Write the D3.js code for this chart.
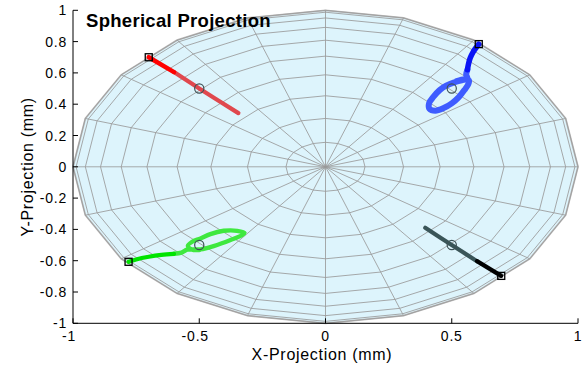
<!DOCTYPE html>
<html><head><meta charset="utf-8">
<script src="https://cdn.jsdelivr.net/npm/d3@7"></script>
<style>
html,body{margin:0;padding:0;background:#fff;}
svg{display:block;font-family:"Liberation Sans",Arial,Helvetica,sans-serif;}
</style></head>
<body>
<svg id="chart" width="587" height="371"></svg>
<script>
// ---- data ----
const title = "Spherical Projection";
const xLabel = "X-Projection (mm)";
const yLabel = "Y-Projection (mm)";
const xTicks = [-1, -0.5, 0, 0.5, 1];
const yTicks = [-1, -0.8, -0.6, -0.4, -0.2, 0, 0.2, 0.4, 0.6, 0.8, 1];
// sphere mesh (MATLAB sphere(20) viewed from above)
const ringLatitudesDeg = [0, 9, 18, 27, 36, 45, 54, 63, 72, 81];
const meridianAnglesDeg = [0,18,36,54,72,90,108,126,144,162,180,198,216,234,252,270,288,306,324,342];
// targets (circles) and start points (squares)
const targets = [[-0.5, 0.5], [0.5, 0.5], [-0.5, -0.5], [0.5, -0.5]];
const starts = [[-0.70, 0.70], [0.607, 0.784], [-0.78, -0.607], [0.696, -0.697]];
// trajectories: early (saturated) part and later part
const redEarly = [[-0.70, 0.70], [-0.60, 0.605]];
const redLate = [[-0.60, 0.605], [-0.50, 0.50], [-0.345, 0.343]];
const blueEarly = [[0.607, 0.784], [0.598, 0.765], [0.585, 0.735], [0.573, 0.695], [0.566, 0.655], [0.562, 0.62]];
const blueLate = [[0.562, 0.62], [0.557, 0.59], [0.562, 0.565], [0.545, 0.555], [0.51, 0.54], [0.478, 0.518],
  [0.452, 0.49], [0.428, 0.448], [0.41, 0.405], [0.412, 0.37], [0.435, 0.358], [0.468, 0.375],
  [0.50, 0.405], [0.528, 0.445], [0.55, 0.49], [0.566, 0.53], [0.568, 0.552], [0.55, 0.56], [0.52, 0.548]];
const greenEarly = [[-0.78, -0.607], [-0.75, -0.592], [-0.70, -0.575], [-0.65, -0.563], [-0.60, -0.556]];
const greenLate = [[-0.60, -0.556], [-0.57, -0.548], [-0.548, -0.53], [-0.52, -0.528], [-0.495, -0.528],
  [-0.443, -0.507], [-0.376, -0.468], [-0.33, -0.436], [-0.321, -0.422], [-0.35, -0.409], [-0.403, -0.409],
  [-0.456, -0.43], [-0.495, -0.458], [-0.528, -0.479], [-0.545, -0.505], [-0.53, -0.528], [-0.50, -0.532]];
const grayLate = [[0.395, -0.39], [0.50, -0.50], [0.60, -0.603]];
const grayEarly = [[0.60, -0.603], [0.696, -0.697]];

const traces = [
  {pts: redLate, color: "#e0484e", w: 4.2},
  {pts: redEarly, color: "#ff0000", w: 4.6},
  {pts: blueLate, color: "#3f5cff", w: 6},
  {pts: blueEarly, color: "#0a14f5", w: 5.5},
  {pts: greenLate, color: "#3fe83f", w: 4.4},
  {pts: greenEarly, color: "#00e400", w: 4.2},
  {pts: grayLate, color: "#3a5558", w: 4.2},
  {pts: grayEarly, color: "#000000", w: 4.2}
];

// ---- chart ----
const svg = d3.select("#chart");
const x = d3.scaleLinear().domain([-1, 1]).range([73, 578]);
const y = d3.scaleLinear().domain([-1, 1]).range([323.3, 10.3]);
const rad = d => d * Math.PI / 180;
const fmt = v => d3.format("~g")(v).replace("\u2212", "-");

// sphere fill
const rimPts = meridianAnglesDeg.map(a => [x(Math.cos(rad(a))), y(Math.sin(rad(a)))]);
svg.append("polygon").attr("points", rimPts.map(p => p.join(",")).join(" "))
  .attr("fill", "#ddf4fc").attr("stroke", "#bdbdbd").attr("stroke-width", 1.8);

const mesh = svg.append("g").attr("fill", "none").attr("stroke", "#999").attr("stroke-width", 0.85);
ringLatitudesDeg.forEach(lat => {
  const r = Math.cos(rad(lat));
  const pts = meridianAnglesDeg.map(a => [x(r * Math.cos(rad(a))), y(r * Math.sin(rad(a)))]);
  mesh.append("polygon").attr("points", pts.map(p => p.join(",")).join(" "));
});
meridianAnglesDeg.forEach(a => {
  mesh.append("line").attr("x1", x(0)).attr("y1", y(0))
    .attr("x2", x(Math.cos(rad(a)))).attr("y2", y(Math.sin(rad(a))));
});

// traces
const line = d3.line().x(d => x(d[0])).y(d => y(d[1])).curve(d3.curveCatmullRom.alpha(0.5));
traces.forEach(t => {
  svg.append("path").attr("d", line(t.pts)).attr("fill", "none")
    .attr("stroke", t.color).attr("stroke-width", t.w)
    .attr("stroke-linecap", "round").attr("stroke-linejoin", "round");
});

// target circles
svg.selectAll("circle.target").data(targets).join("circle").attr("class", "target")
  .attr("cx", d => x(d[0])).attr("cy", d => y(d[1])).attr("r", 4.6)
  .attr("fill", "none").attr("stroke", "#3e5256").attr("stroke-width", 1.2);

// start squares
svg.selectAll("rect.start").data(starts).join("rect").attr("class", "start")
  .attr("x", d => x(d[0]) - 3.5).attr("y", d => y(d[1]) - 3.5)
  .attr("width", 7).attr("height", 7)
  .attr("fill", "none").attr("stroke", "#000").attr("stroke-width", 1.3);

// axes
const ax = svg.append("g").attr("font-size", 14).attr("letter-spacing", "0.8px").attr("fill", "#000");
ax.append("line").attr("x1", x(-1)).attr("x2", x(-1)).attr("y1", y(-1)).attr("y2", y(1))
  .attr("stroke", "#000").attr("stroke-width", 1);
ax.append("line").attr("x1", x(-1)).attr("x2", x(1)).attr("y1", y(-1)).attr("y2", y(-1))
  .attr("stroke", "#000").attr("stroke-width", 1);
yTicks.forEach(v => {
  ax.append("line").attr("x1", x(-1)).attr("x2", x(-1) + 5).attr("y1", y(v)).attr("y2", y(v))
    .attr("stroke", "#000");
  ax.append("text").attr("x", x(-1) - 6).attr("y", y(v)).attr("dy", "0.36em")
    .attr("text-anchor", "end").text(fmt(v));
});
xTicks.forEach(v => {
  ax.append("line").attr("x1", x(v)).attr("x2", x(v)).attr("y1", y(-1)).attr("y2", y(-1) - 5)
    .attr("stroke", "#000");
  ax.append("text").attr("x", x(v) + (v < 0 ? -4 : 0)).attr("y", 341)
    .attr("text-anchor", "middle").text(fmt(v));
});

svg.append("text").attr("x", 322).attr("y", 360).attr("text-anchor", "middle")
  .attr("font-size", 16).attr("letter-spacing", "0.7px").text(xLabel);
svg.append("text").attr("transform", `translate(33,${y(0)}) rotate(-90)`).attr("text-anchor", "middle")
  .attr("font-size", 16).attr("letter-spacing", "0.7px").text(yLabel);

svg.append("text").attr("x", 86).attr("y", 27).attr("font-size", 18.5).attr("font-weight", "bold")
  .attr("letter-spacing", "0.3px").text(title);
</script>
</body></html>
